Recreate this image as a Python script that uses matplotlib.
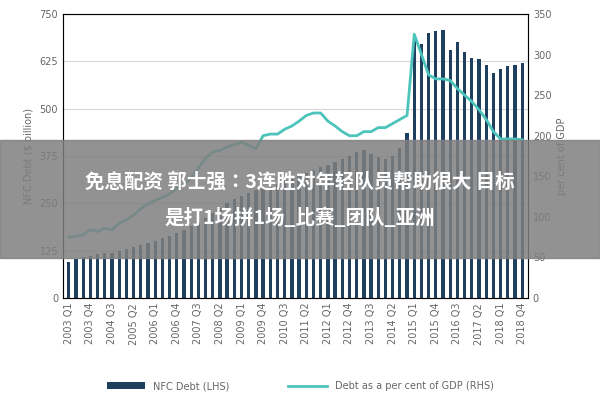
import matplotlib
matplotlib.use('Agg')
import matplotlib.pyplot as plt
from matplotlib.patches import Rectangle

# quarters 2003 Q1 .. 2018 Q4
quarters = [f"{y} Q{q}" for y in range(2003, 2019) for q in range(1, 5)]

nfc_debt = [95, 103, 108, 112, 115, 120, 118, 125, 130, 135, 140, 145,
            150, 158, 165, 172, 180, 190, 200, 212, 225, 238, 250, 262,
            270, 278, 285, 290, 295, 300, 308, 315, 322, 330, 338, 345,
            352, 360, 368, 375, 385, 390, 380, 372, 368, 375, 395, 435,
            680, 670, 700, 705, 708, 655, 675, 650, 635, 630, 615, 595,
            605, 612, 616, 620]

debt_gdp = [75, 76, 78, 84, 82, 86, 84, 92, 96, 102, 110, 116,
            120, 124, 128, 135, 140, 148, 160, 172, 180, 182, 186, 189,
            192, 188, 184, 200, 202, 202, 208, 212, 218, 225, 228, 228,
            218, 212, 205, 200, 200, 205, 205, 210, 210, 215, 220, 225,
            325, 300, 275, 270, 270, 268, 258, 250, 242, 232, 220, 205,
            196, 196, 196, 195]

tick_idx = list(range(0, 64, 3))
cjk = ['Noto Sans CJK SC', 'Noto Sans CJK JP', 'DejaVu Sans']

fig = plt.figure(figsize=(6, 4), dpi=100)
ax = fig.add_axes([0.105, 0.255, 0.775, 0.71])
x = list(range(len(quarters)))
ax.bar(x, nfc_debt, width=0.45, color='#1f3f5f', label='NFC Debt (LHS)', zorder=2)
ax.set_ylim(0, 750)
ax.set_yticks(range(0, 751, 125))
ax.set_xlim(-0.8, 63.8)
ax.set_xticks(tick_idx)
ax.set_xticklabels([quarters[i] for i in tick_idx], rotation=90, fontsize=6, color='#666')
ax.tick_params(axis='both', length=0, labelsize=7, labelcolor='#666')
ax.grid(axis='y', color='#d8d8d8', lw=0.8, zorder=0)
for s in ax.spines.values():
    s.set_color('#888')
ax.set_ylabel('NFC Debt ($ billion)', fontsize=7, color='#666')

ax2 = ax.twinx()
ax2.plot(x, debt_gdp, color='#4cc3bb', lw=2, label='Debt as a per cent of GDP (RHS)')
ax2.set_ylim(0, 350)
ax2.set_yticks(range(0, 351, 50))
ax2.tick_params(axis='y', length=0, labelsize=7, labelcolor='#666')
ax2.set_ylabel('per cent of GDP', fontsize=7, color='#666')

h1, l1 = ax.get_legend_handles_labels()
h2, l2 = ax2.get_legend_handles_labels()
fig.legend(h1 + h2, l1 + l2, loc='lower center', bbox_to_anchor=(0.5, 0.0),
           ncol=2, frameon=False, fontsize=7, labelcolor='#666',
           columnspacing=6, handlelength=4)

# grey banner overlay with title
fig.patches.append(Rectangle((0, 0.355), 1, 0.295, transform=fig.transFigure,
                             color='#7f7f7f', alpha=0.85, zorder=10))
fig.text(0.5, 0.545, '免息配资 郭士强：3连胜对年轻队员帮助很大 目标', ha='center', va='center',
         color='white', fontsize=14, fontweight='bold', family=cjk, zorder=11)
fig.text(0.5, 0.455, '是打1场拼1场_比赛_团队_亚洲', ha='center', va='center',
         color='white', fontsize=14, fontweight='bold', family=cjk, zorder=11)

fig.savefig('out.png', dpi=100)
